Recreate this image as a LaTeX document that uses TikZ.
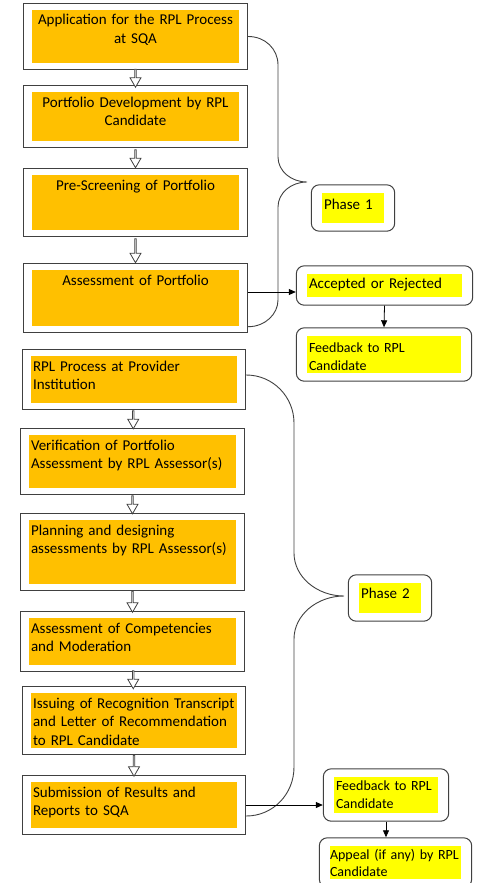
\documentclass[tikz,border=0pt]{standalone}
\usepackage{fontspec}
\setmainfont{Carlito}
\usetikzlibrary{arrows.meta}
\usetikzlibrary{shapes.arrows, fit, calc}
\definecolor{cellorange}{HTML}{FFC000}
\definecolor{cellyellow}{HTML}{FFFF00}
\definecolor{edgegray}{HTML}{404040}

\begin{document}
\begin{tikzpicture}[x=1pt,y=-1pt]
\tikzset{font=\fontsize{15}{18.5}\selectfont}
\tikzset{smalltext/.style={font=\fontsize{14}{17.3}\selectfont}}
\tikzset{cell/.style={fill=cellorange, inner xsep=2pt, inner ysep=0pt, text height=15pt}}
\tikzset{frame/.style={draw=edgegray, line width=1pt, inner xsep=8.5pt, inner ysep=6pt}}
\tikzset{note/.style={fill=cellyellow, inner xsep=2pt, inner ysep=0pt, align=left}}
\tikzset{tag/.style={draw=edgegray, line width=1pt, rounded corners=8pt, inner xsep=10.5pt, inner ysep=8pt}}
\tikzset{hollow/.style={single arrow, draw=edgegray, fill=white, line width=0.8pt, shape border rotate=270, inner sep=0pt, minimum width=11pt, single arrow head extend=2.2pt, single arrow tip angle=60, minimum height=#1}}
\tikzset{hollow/.default=18pt}
\tikzset{brace/.style={draw=edgegray, line width=0.9pt}}
\tikzset{arr/.style={draw=black, line width=0.8pt, -{Triangle[length=7pt,width=6pt]}}}

\useasboundingbox (0,0) rectangle (482,883);

\node[cell, text width=203pt, align=center, text depth=38pt] (c1) at (135.5,36.5) {Application for the RPL Process\\at SQA};
\node[cell, text width=203pt, align=center, text depth=34pt] (c2) at (135.5,116.5) {Portfolio Development by RPL\\Candidate};
\node[cell, text width=203pt, align=center, text depth=40pt] (c3) at (135.5,202.5) {Pre-Screening of Portfolio};
\node[cell, text width=203pt, align=center, text depth=41pt] (c4) at (135.5,298) {Assessment of Portfolio};
\node[cell, text width=202pt, align=left, text depth=32pt] (c5) at (134,379.5) {RPL Process at Provider\\Institution};
\node[cell, text width=203pt, align=left, text depth=38pt] (c6) at (132.5,461.5) {Verification of Portfolio\\Assessment by RPL Assessor(s)};
\node[cell, text width=203pt, align=left, text depth=49pt] (c7) at (132.5,552) {Planning and designing\\assessments by RPL Assessor(s)};
\node[cell, text width=203pt, align=left, text depth=32pt] (c8) at (132.5,641.5) {Assessment of Competencies\\and Moderation};
\node[cell, text width=202pt, align=left, text depth=40pt] (c9) at (134,720.5) {Issuing of Recognition Transcript\\and Letter of Recommendation\\to RPL Candidate};
\node[cell, text width=202pt, align=left, text depth=31pt] (c10) at (134,805) {Submission of Results and\\Reports to SQA};

\foreach \i in {1,...,10}
  \node[frame, fit=(c\i)] (f\i) {};

\node[hollow] (h1) at ($(f1.south)!.5!(f2.north)$) {};
\node[hollow] (h2) at ($(f2.south)!.5!(f3.north)$) {};
\node[hollow=24pt] (h3) at ($(f3.south)!.5!(f4.north)$) {};
\node[hollow] (h4) at ($(f5.south)!.5!(f6.north)$) {};
\node[hollow] (h5) at ($(f6.south)!.5!(f7.north)$) {};
\node[hollow=21pt] (h6) at ($(f7.south)!.5!(f8.north)$) {};
\node[hollow] (h7) at ($(f8.south)!.5!(f9.north)$) {};
\node[hollow=21pt] (h8) at ($(f9.south)!.5!(f10.north)$) {};

\node[note, text width=58pt, text height=16pt, text depth=14pt] (y1) at (353,208) {Phase 1};
\node[note, text width=151pt, text height=14pt, text depth=9pt] (y2) at (384.5,285.5) {Accepted or Rejected};
\node[note, smalltext, text width=150pt, text height=16.7pt, text depth=20.3pt] (y3) at (384,354.5) {Feedback to RPL\\Candidate};
\node[note, text width=58pt, text height=15pt, text depth=15pt] (y4) at (390,598) {Phase 2};
\node[note, smalltext, text width=100pt, text height=13.7pt, text depth=22.3pt] (y5) at (386,795) {Feedback to RPL\\Candidate};
\node[note, smalltext, inner xsep=0pt, text width=131pt, text height=13pt, text depth=20pt] (y6) at (395.5,862.5) {Appeal (if any) by RPL\\Candidate};

\node[tag, fit=(y1)] (ph1) {};
\node[tag, fit=(y2)] (acc) {};
\node[tag, fit=(y3)] (fbk1) {};
\node[tag, fit=(y4)] (ph2) {};
\node[tag, fit=(y5)] (fbk2) {};
\node[tag, fit=(y6)] (apl) {};

\coordinate (b1) at (307,182);
\coordinate (b2) at (344,596);

\draw[brace] (f1.east) .. controls +(17,0) and +(0,-16) .. (278,65) -- (278,157)
  .. controls +(0,14) and +(-16,0) .. (b1)
  .. controls +(-16,0) and +(0,-14) .. (278,207) -- (278,300)
  .. controls +(0,14) and +(17,0) .. ([yshift=6pt]f4.south east);
\draw[brace] ([yshift=4.5pt]f5.east) .. controls +(27,0) and +(0,-26) .. (294,423) -- (294,553)
  .. controls +(0,24) and +(-27,0) .. (b2)
  .. controls +(-27,0) and +(0,-24) .. (294,639) -- (294,767)
  .. controls +(0,27) and +(27,0) .. ([yshift=-11pt]f10.east);

\draw[arr] ([yshift=6pt]f4.east) -- ([yshift=6pt]f4.east -| acc.west);
\draw[arr] (acc.south) -- (fbk1.north);
\draw[arr] (f10.east) -- (f10.east -| fbk2.west);
\draw[arr] (fbk2.south) -- (fbk2.south |- apl.north);

\end{tikzpicture}
\end{document}
